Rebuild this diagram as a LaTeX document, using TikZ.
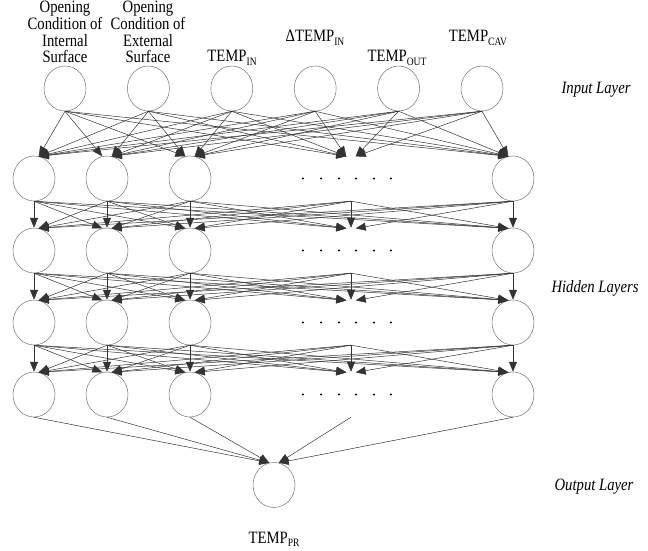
\documentclass[tikz,border=0pt]{standalone}
\usepackage{fontspec}
\setmainfont{Liberation Serif}
\usepackage{graphicx}
\usetikzlibrary{shapes.geometric,arrows.meta}
\newcommand\stretchy[1]{\scalebox{1}[1.18]{#1}}
\newcommand\subs[1]{\raisebox{-3pt}{\fontsize{9.5}{9.5}\selectfont #1}}
\newcommand\stack[1]{\stretchy{\begin{tabular}[b]{@{}c@{}}#1\end{tabular}}}
\tikzset{
  neuron/.style={shape=ellipse, minimum width=42pt, minimum height=45pt, inner sep=0pt, draw=black!55, line width=0.5pt},
  ghost/.style={shape=ellipse, minimum width=42pt, minimum height=45pt, inner sep=0pt, draw=none},
  edge/.style={draw=black!80, line width=0.5pt, -{Triangle[length=10pt,width=8pt]}},
  lbl/.style={font=\fontsize{14.7}{13}\selectfont, inner sep=0pt, anchor=base, align=center},
  layerlbl/.style={font=\fontsize{14.7}{13}\selectfont\itshape, inner sep=0pt, anchor=base},
  dotmark/.style={fill=black}
}
\begin{document}
\begin{tikzpicture}[x=1pt,y=-1pt]
\useasboundingbox (0,0) rectangle (648,551);
% input layer
\foreach \n/\x in {1/65,2/148.4,3/231.8,4/315.2,5/398.6,6/482}
  \node[neuron] (i\n) at (\x,88.5) {};
% hidden layers
\foreach \r/\y in {1/178.5,2/250.5,3/322.5,4/394.5}{
  \foreach \c/\x in {1/34,2/107,3/190,5/513}
    \node[neuron] (h\r\c) at (\x,\y) {};
  \node[ghost] (h\r4) at (351,\y) {};
  \foreach \dx in {303,321,339,356,374,391}
    \fill[dotmark] (\dx,\y) circle (1.1pt);
}
% output
\node[neuron] (o) at (274,485) {};
% labels
\node[lbl] (t1) at (65,63) {\stack{Opening\\Condition of\\Internal\\Surface}};
\node[lbl] (t2) at (148,63) {\stack{Opening\\Condition of\\External\\Surface}};
\node[lbl] (t3) at (232,62) {\stretchy{TEMP\subs{IN}}};
\node[lbl] (t4) at (315,42) {\stretchy{ΔTEMP\subs{IN}}};
\node[lbl] (t5) at (397,62) {\stretchy{TEMP\subs{OUT}}};
\node[lbl] (t6) at (478,42) {\stretchy{TEMP\subs{CAV}}};
\node[lbl] (tpr) at (274,543) {\stretchy{TEMP\subs{PR}}};
\node[layerlbl] (li) at (596,93) {\stretchy{Input Layer}};
\node[layerlbl] (lh) at (595,292) {\stretchy{Hidden Layers}};
\node[layerlbl] (lo) at (594,490) {\stretchy{Output Layer}};
% input -> hidden 1
\foreach \s/\sx in {1/65,2/148.4,3/231.8,4/315.2,5/398.6,6/482}
  \foreach \t/\tx in {1/34,2/107,3/190,4/351,5/513}{
    \pgfmathtruncatemacro\ang{\sx<\tx ? 102 : 78}
    \draw[edge] (i\s.south) -- (h1\t.\ang);
  }
% hidden -> hidden
\foreach \r/\rn in {1/2,2/3,3/4}
  \foreach \s/\sx in {1/34,2/107,3/190,4/351,5/513}
    \foreach \t/\tx in {1/34,2/107,3/190,4/351,5/513}{
      \pgfmathtruncatemacro\ang{\sx<\tx ? 102 : (\sx>\tx ? 78 : 90)}
      \draw[edge] (h\r\s.south) -- (h\rn\t.\ang);
    }
% hidden 4 -> output
\foreach \s/\sx in {1/34,2/107,3/190,4/351,5/513}{
  \pgfmathtruncatemacro\ang{\sx<274 ? 102 : 78}
  \draw[edge] (h4\s.south) -- (o.\ang);
}
\end{tikzpicture}
\end{document}
